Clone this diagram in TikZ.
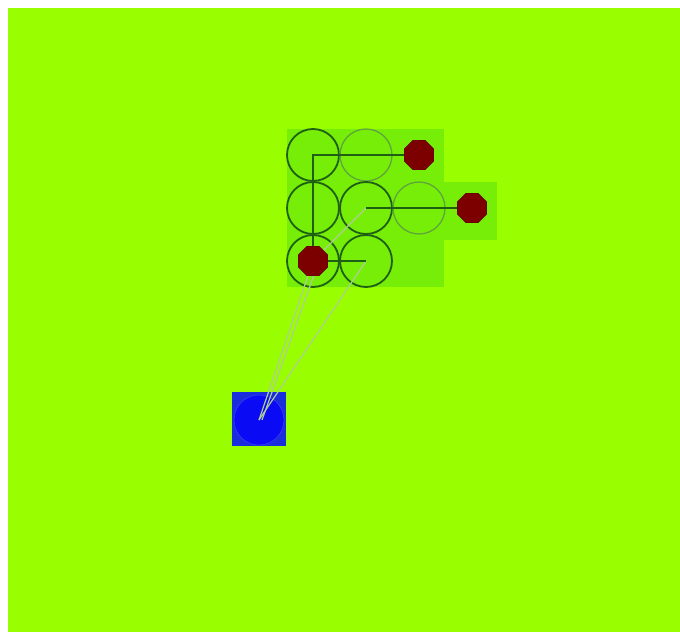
\documentclass[tikz,border=0pt]{standalone}
\usepackage{tikz}
\usetikzlibrary{shapes.geometric, positioning}
\definecolor{fieldgreen}{RGB}{153,255,0}
\definecolor{zonegreen}{RGB}{118,238,8}
\definecolor{ringdark}{RGB}{30,95,20}
\definecolor{ringlight}{RGB}{95,165,60}
\definecolor{goalred}{RGB}{125,0,0}
\definecolor{basesq}{RGB}{25,45,220}
\definecolor{baseblue}{RGB}{10,10,245}
\definecolor{raycolor}{RGB}{175,205,150}

\begin{document}
\begin{tikzpicture}[
    x=1pt, y=-1pt,
    ring/.style={draw=ringdark, line width=1.8pt, circle, minimum size=52pt, inner sep=0pt},
    faintring/.style={draw=ringlight, line width=1.3pt, circle, minimum size=52pt, inner sep=0pt},
    goal/.style={draw=goalred!70!black, fill=goalred, regular polygon, regular polygon sides=8, minimum size=32pt, inner sep=0pt},
    link/.style={draw=ringdark, line width=1.8pt},
    ray/.style={draw=raycolor, line width=1.2pt}
]
    % canvas
    \useasboundingbox (0,0) rectangle (680,632);
    \fill[white] (0,0) rectangle (680,632);
    \fill[fieldgreen] (8,8) rectangle (680,632);

    % explored zone
    \fill[zonegreen] (287,129) rectangle (444,287);
    \fill[zonegreen] (444,182) rectangle (497,240);

    % grid of cells
    \node[ring] (c00) at (313,155) {};
    \node[faintring] (c01) at (366,155) {};
    \node[ring] (c10) at (313,208) {};
    \node[ring] (c11) at (366,208) {};
    \node[faintring] (c12) at (419,208) {};
    \node[ring] (c20) at (313,261) {};
    \node[ring] (c21) at (366,261) {};

    % start
    \node[draw=basesq, fill=basesq, minimum size=53pt, inner sep=0pt] (base) at (259,419) {};
    \node[draw=baseblue!75!white, fill=baseblue, circle, minimum size=50pt, inner sep=0pt] (basec) at (259,420) {};

    % rays to start
    \draw[ray] (c11.center) -- (c20.center) -- (basec.center);
    \draw[ray] ([xshift=6pt]c20.center) -- ([xshift=3pt]basec.center);
    \draw[ray] (c21.center) -- (basec.center);

    % links
    \coordinate (gA) at (419,155);
    \coordinate (gB) at (472,208);
    \draw[link] (gA) -| (c20.center);
    \draw[link] (gB) -- (c11.center);
    \draw[link] (c20.center) -- (c21.center);

    % goals
    \node[goal] (goalA) at (gA) {};
    \node[goal] (goalB) at (gB) {};
    \node[goal] (goalC) at (c20) {};
\end{tikzpicture}
\end{document}
